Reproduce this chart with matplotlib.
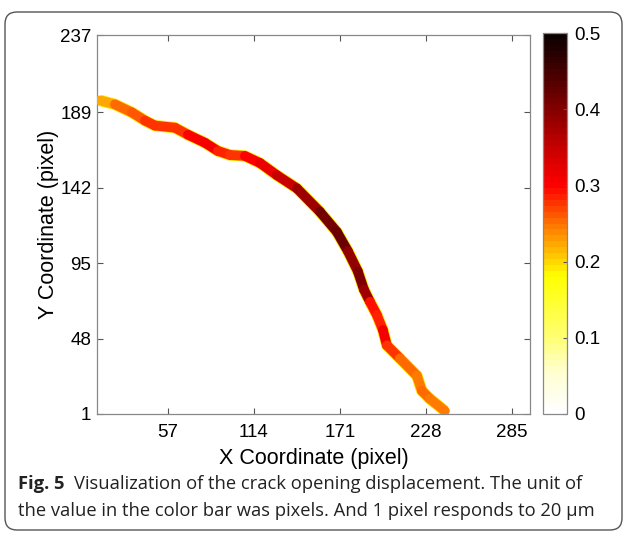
import numpy as np
import matplotlib
matplotlib.use("Agg")
import matplotlib.pyplot as plt
from matplotlib.collections import LineCollection
from matplotlib.colors import LinearSegmentedColormap, Normalize
from matplotlib.patches import FancyBboxPatch
from matplotlib.transforms import IdentityTransform

# ---- data ----
crack_x = [11.9, 21.9, 33.1, 41.8, 48.4, 61.6, 70.3, 81.5, 90.1, 98.1, 108.0,
           118.0, 129.2, 142.5, 157.7, 169.0, 176.3, 182.9, 186.9, 190.9,
           195.5, 199.5, 202.1, 210.7, 222.0, 225.3, 230.6, 240.6]
crack_y = [196.3, 193.8, 188.8, 183.7, 180.6, 179.3, 174.9, 169.9, 164.8, 162.3,
           161.7, 157.3, 149.7, 141.5, 127.0, 114.4, 102.4, 89.8, 78.5, 70.9,
           62.7, 53.3, 43.8, 35.7, 24.9, 15.5, 10.5, 2.9]
crack_cod = [0.20, 0.24, 0.26, 0.27, 0.28, 0.27, 0.29, 0.31, 0.30, 0.27, 0.29,
             0.31, 0.33, 0.36, 0.40, 0.42, 0.41, 0.37, 0.43, 0.33, 0.25, 0.32,
             0.30, 0.26, 0.25, 0.24, 0.26, 0.23]
x_ticks = [57, 114, 171, 228, 285]
y_ticks = [1, 48, 95, 142, 189, 237]
cbar_ticks = [0, 0.1, 0.2, 0.3, 0.4, 0.5]
cbar_labels = ['0', '0.1', '0.2', '0.3', '0.4', '0.5']
x_label = "X Coordinate (pixel)"
y_label = "Y Coordinate (pixel)"
caption_bold = "Fig. 5"
caption_line1 = "Visualization of the crack opening displacement. The unit of"
caption_line2 = "the value in the color bar was pixels. And 1 pixel responds to 20 \u03bcm"

# ---- colormap (reversed hot-like, 64 levels) ----
anchors = [(0.0, (1, 1, 1)), (0.1, (1, 1, 0.82)), (0.2, (1, 1, 0.45)),
           (0.36, (1, 1, 0.0)), (0.42, (1, 0.75, 0.0)), (0.5, (1, 0.45, 0.0)),
           (0.6, (1, 0.0, 0.0)), (0.7, (0.78, 0.0, 0.0)), (0.8, (0.52, 0.0, 0.0)),
           (0.9, (0.28, 0.0, 0.0)), (1.0, (0.05, 0.0, 0.0))]
cmap = LinearSegmentedColormap.from_list("hotrev", anchors, N=64)
norm = Normalize(0, 0.5)

plt.rcParams['font.family'] = ['Liberation Sans', 'DejaVu Sans']
cap_font = ['Open Sans', 'DejaVu Sans']

W, H = 627, 537
fig = plt.figure(figsize=(W / 100, H / 100), dpi=100)

frame = FancyBboxPatch((5, 7), 617, 518, boxstyle="round,pad=0,rounding_size=12",
                       transform=IdentityTransform(), facecolor='none',
                       edgecolor='#555555', linewidth=1.0)
fig.patches.append(frame)

ax = fig.add_axes([97 / W, 1 - 414 / H, 433 / W, 379 / H])
ax.set_xlim(10, 297)
ax.set_ylim(1, 237)

pts = np.column_stack([crack_x, crack_y])
segs = np.stack([pts[:-1], pts[1:]], axis=1)
vals = np.array(crack_cod)
seg_vals = 0.5 * (vals[:-1] + vals[1:])

ax.plot(crack_x, crack_y, color='#ffe600', lw=8.2, solid_capstyle='butt',
        solid_joinstyle='round', zorder=2)
lc = LineCollection(segs, cmap=cmap, norm=norm, linewidths=7.0,
                    capstyle='round', joinstyle='round', zorder=3)
lc.set_array(seg_vals)
ax.add_collection(lc)

ax.set_xticks(x_ticks)
ax.set_yticks(y_ticks)
ax.tick_params(direction='in', length=4, width=0.8, color='#555555',
               top=True, right=True, labelsize=13.5)
ax.tick_params(axis='x', pad=7)
ax.tick_params(axis='y', pad=4)
for s in ax.spines.values():
    s.set_color('#888888')
    s.set_linewidth(0.9)
ax.set_xlabel(x_label, fontsize=15.5, labelpad=5)
ax.set_ylabel(y_label, fontsize=15.5, labelpad=1)

cax = fig.add_axes([543 / W, 1 - 414 / H, 24 / W, 381 / H])
sm = plt.cm.ScalarMappable(norm=norm, cmap=cmap)
cb = fig.colorbar(sm, cax=cax, ticks=cbar_ticks)
cb.ax.set_yticklabels(cbar_labels)
cb.ax.tick_params(direction='in', length=3, width=0.8, color='#555555',
                  labelsize=13.5, pad=5)
cb.outline.set_edgecolor('#888888')
cb.outline.set_linewidth(0.9)

# caption
fs = 13.2
t1 = fig.text(18 / W, 1 - 484 / H, caption_bold, fontsize=fs, fontweight='bold',
              family=cap_font, va='center', ha='left', color='#222222')
fig.canvas.draw()
bb = t1.get_window_extent()
fig.text((bb.x1 + 9) / W, 1 - 484 / H, caption_line1, fontsize=fs,
         family=cap_font, va='center', ha='left', color='#222222')
fig.text(18 / W, 1 - 511 / H, caption_line2, fontsize=fs,
         family=cap_font, va='center', ha='left', color='#222222')

fig.savefig("out.png", dpi=100)
